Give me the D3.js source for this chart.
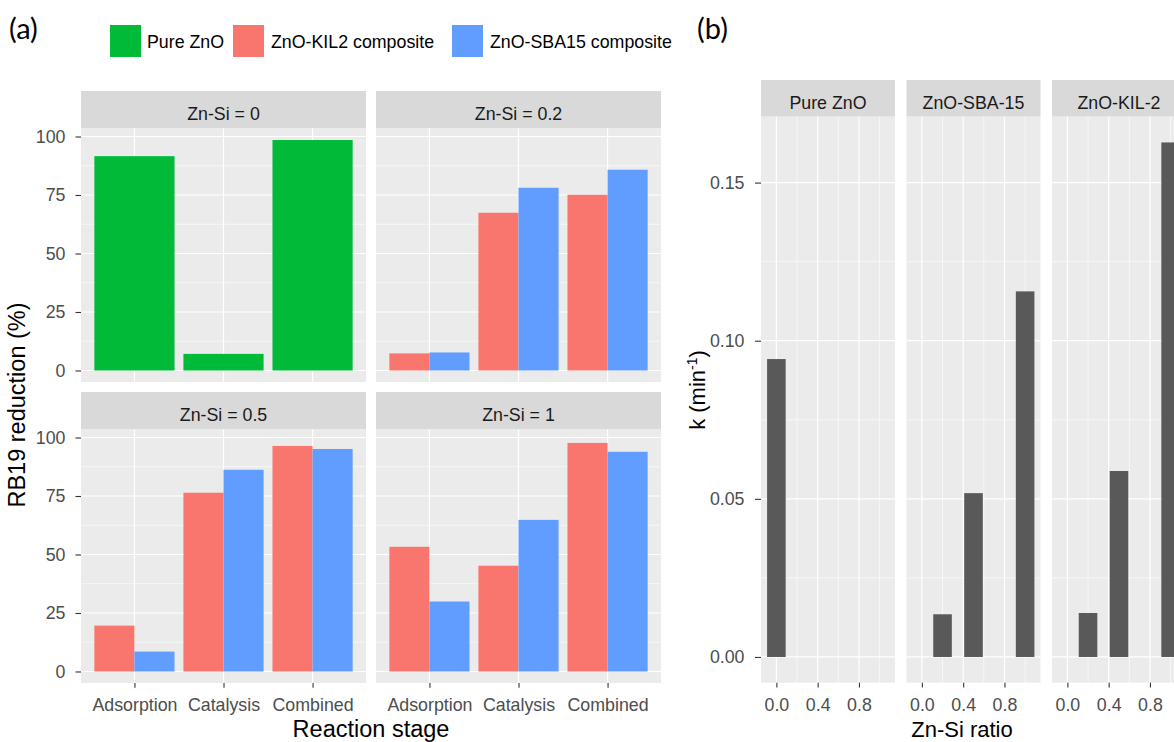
<!DOCTYPE html>
<html>
<head>
<meta charset="utf-8">
<script src="https://cdn.jsdelivr.net/npm/d3@7"></script>
<style>
  body { margin: 0; background: #fff; }
  text { font-family: "Liberation Sans", Arial, sans-serif; }
</style>
</head>
<body>
<script>
// ==================== Data ============================
// Panel (a): RB19 reduction (%) by reaction stage
const stages = ['Adsorption', 'Catalysis', 'Combined'];
const ratioLabels = ['Zn-Si = 0', 'Zn-Si = 0.2', 'Zn-Si = 0.5', 'Zn-Si = 1'];
const materials = ['Pure ZnO', 'ZnO-KIL2 composite', 'ZnO-SBA15 composite'];
const materialColors = ['#00BA38', '#F8766D', '#619CFF'];
const yTicksA = [0, 25, 50, 75, 100];

const pureZnO = [91.6, 7.1, 98.5];                   // Zn-Si = 0
const kil2Reduction = [[7.3, 67.4, 75.1],             // Zn-Si = 0.2
                       [19.6, 76.4, 96.4],            // Zn-Si = 0.5
                       [53.3, 45.2, 97.7]];           // Zn-Si = 1
const sba15Reduction = [[7.7, 78.1, 85.8],
                        [8.5, 86.2, 95.1],
                        [29.9, 64.8, 93.9]];

// Panel (b): rate constant k (min^-1) vs Zn-Si ratio
const kFacets = ['Pure ZnO', 'ZnO-SBA-15', 'ZnO-KIL-2'];
const kRatio = [[0], [0.2, 0.5, 1], [0.2, 0.5, 1]];
const kRate = [[0.0942], [0.0135, 0.0518, 0.1156], [0.0139, 0.0588, 0.1627]];
const kXTicks = [0, 0.4, 0.8];
const kYTicks = [0, 0.05, 0.10, 0.15];

// ==================== Set up ============================
const W = 1174, H = 742;
const panelBg = '#EBEBEB', stripBg = '#D9D9D9', axisText = '#4D4D4D', tickCol = '#333333';
const tickFont = 17.8;

const svg = d3.select('body').append('svg')
    .attr('width', W)
    .attr('height', H)
    .style('background', '#fff');

// facets for panel (a)
const facetsA = ratioLabels.map((label, i) => ({
  label,
  series: i === 0
    ? [{mat: 0, values: pureZnO}]
    : [{mat: 1, values: kil2Reduction[i - 1]}, {mat: 2, values: sba15Reduction[i - 1]}]
}));

const A = {lefts: [81, 376], rowTops: [91, 392], panelW: 285, stripH: 37.5, panelH: 253.5};
const maxA = d3.max([pureZnO, ...kil2Reduction, ...sba15Reduction].flat());
const yA = d3.scaleLinear().domain([-0.05 * maxA, 1.05 * maxA]).range([A.panelH, 0]);
const xA = d3.scalePoint().domain(stages).range([0, A.panelW]).padding(0.6);
const stepA = xA.step();

const styleAxis = (g) => {
  g.select('.domain').remove();
  g.selectAll('line').attr('stroke', tickCol).attr('stroke-width', 1.1);
  g.selectAll('text').attr('fill', axisText).style('font-size', tickFont + 'px')
    .style('font-family', '"Liberation Sans", Arial, sans-serif');
};

const drawStrip = (g, w, h, label) => {
  g.append('rect').attr('width', w).attr('height', h).attr('fill', stripBg);
  g.append('text')
      .attr('x', w / 2).attr('y', h / 2 + 10.4)
      .attr('text-anchor', 'middle')
      .attr('fill', '#1A1A1A')
      .style('font-size', tickFont + 'px')
      .text(label);
};

// ==================== Panel (a) ============================
facetsA.forEach((f, i) => {
  const col = i % 2, row = Math.floor(i / 2);
  const g = svg.append('g').attr('transform', `translate(${A.lefts[col]}, ${A.rowTops[row]})`);
  drawStrip(g, A.panelW, A.stripH, f.label);

  const p = g.append('g').attr('transform', `translate(0, ${A.stripH})`);
  p.append('rect').attr('width', A.panelW).attr('height', A.panelH).attr('fill', panelBg);

  // minor + major gridlines
  p.selectAll('.minor').data(d3.range(12.5, 100, 25)).enter()
    .append('line')
      .attr('x1', 0).attr('x2', A.panelW)
      .attr('y1', d => yA(d)).attr('y2', d => yA(d))
      .attr('stroke', '#fff').attr('stroke-width', 0.6);
  p.selectAll('.major').data(yTicksA).enter()
    .append('line')
      .attr('x1', 0).attr('x2', A.panelW)
      .attr('y1', d => yA(d)).attr('y2', d => yA(d))
      .attr('stroke', '#fff').attr('stroke-width', 1.2);
  p.selectAll('.vgrid').data(stages).enter()
    .append('line')
      .attr('x1', d => xA(d)).attr('x2', d => xA(d))
      .attr('y1', 0).attr('y2', A.panelH)
      .attr('stroke', '#fff').attr('stroke-width', 1.2);

  // dodged bars
  const n = f.series.length;
  f.series.forEach((s, si) => {
    p.selectAll(null).data(s.values).enter()
      .append('rect')
        .attr('x', (d, j) => xA(stages[j]) - 0.45 * stepA + si * 0.9 * stepA / n)
        .attr('width', 0.9 * stepA / n)
        .attr('y', d => yA(d))
        .attr('height', d => yA(0) - yA(d))
        .attr('fill', materialColors[s.mat]);
  });

  if (col === 0) {
    p.append('g')
        .call(d3.axisLeft(yA).tickValues(yTicksA).tickSize(5.5).tickPadding(10))
        .call(styleAxis);
  }
  if (row === 1) {
    p.append('g')
        .attr('transform', `translate(0, ${A.panelH})`)
        .call(d3.axisBottom(xA).tickSize(4.8).tickPadding(10.4))
        .call(styleAxis);
  }
});

// axis titles (a)
svg.append('text')
    .attr('transform', 'translate(25, 405) rotate(-90)')
    .attr('text-anchor', 'middle')
    .style('font-size', '23.5px')
    .text('RB19 reduction (%)');
svg.append('text')
    .attr('x', 371).attr('y', 736.5)
    .attr('text-anchor', 'middle')
    .style('font-size', '23.5px')
    .text('Reaction stage');

// legend (a)
const legendKeys = [110, 233, 452];
const legendLabelX = [147, 271, 490];
materials.forEach((m, i) => {
  svg.append('rect')
      .attr('x', legendKeys[i]).attr('y', 25)
      .attr('width', 31).attr('height', 32)
      .attr('fill', materialColors[i]);
  svg.append('text')
      .attr('x', legendLabelX[i]).attr('y', 48)
      .style('font-size', tickFont + 'px')
      .attr('fill', '#000')
      .text(m);
});

// panel tags
svg.append('text').attr('x', 9).attr('y', 39)
    .style('font-family', 'Lato, "Open Sans", sans-serif').style('font-size', '29px').text('(a)');
svg.append('text').attr('x', 697).attr('y', 39)
    .style('font-family', 'Lato, "Open Sans", sans-serif').style('font-size', '29px').text('(b)');

// ==================== Panel (b) ============================
const B = {lefts: [761, 906.5, 1052], top: 80, panelW: 134, stripH: 36.7, panelH: 566};
const barWK = 0.18;
const maxK = d3.max(kRate.flat());
const yB = d3.scaleLinear().domain([-0.05 * maxK, 1.05 * maxK]).range([B.panelH, 0]);
const lo = d3.min(kRatio.flat()) - barWK / 2, hi = d3.max(kRatio.flat()) + barWK / 2;
const xB = d3.scaleLinear().domain([lo - 0.05 * (hi - lo), hi + 0.05 * (hi - lo)]).range([0, B.panelW]);

kFacets.forEach((label, i) => {
  const g = svg.append('g').attr('transform', `translate(${B.lefts[i]}, ${B.top})`);
  drawStrip(g, B.panelW, B.stripH, label);

  const p = g.append('g').attr('transform', `translate(0, ${B.stripH})`);
  p.append('rect').attr('width', B.panelW).attr('height', B.panelH).attr('fill', panelBg);

  p.selectAll('.yminor').data(d3.range(0.025, 0.17, 0.05)).enter()
    .append('line')
      .attr('x1', 0).attr('x2', B.panelW)
      .attr('y1', d => yB(d)).attr('y2', d => yB(d))
      .attr('stroke', '#fff').attr('stroke-width', 0.6);
  p.selectAll('.xminor').data(d3.range(0.2, 1.1, 0.4)).enter()
    .append('line')
      .attr('x1', d => xB(d)).attr('x2', d => xB(d))
      .attr('y1', 0).attr('y2', B.panelH)
      .attr('stroke', '#fff').attr('stroke-width', 0.6);
  p.selectAll('.ymajor').data(kYTicks).enter()
    .append('line')
      .attr('x1', 0).attr('x2', B.panelW)
      .attr('y1', d => yB(d)).attr('y2', d => yB(d))
      .attr('stroke', '#fff').attr('stroke-width', 1.2);
  p.selectAll('.xmajor').data(kXTicks).enter()
    .append('line')
      .attr('x1', d => xB(d)).attr('x2', d => xB(d))
      .attr('y1', 0).attr('y2', B.panelH)
      .attr('stroke', '#fff').attr('stroke-width', 1.2);

  p.selectAll(null).data(kRate[i]).enter()
    .append('rect')
      .attr('x', (d, j) => xB(kRatio[i][j] - barWK / 2))
      .attr('width', xB(barWK) - xB(0))
      .attr('y', d => yB(d))
      .attr('height', d => yB(0) - yB(d))
      .attr('fill', '#595959');

  if (i === 0) {
    p.append('g')
        .call(d3.axisLeft(yB).tickValues(kYTicks).tickFormat(d3.format('.2f')).tickSize(6).tickPadding(10.5))
        .call(styleAxis);
  }
  p.append('g')
      .attr('transform', `translate(0, ${B.panelH})`)
      .call(d3.axisBottom(xB).tickValues(kXTicks).tickFormat(d3.format('.1f')).tickSize(4.8).tickPadding(10.4))
      .call(styleAxis);
});

// axis titles (b)
const kTitle = svg.append('text')
    .attr('transform', 'translate(705, 390) rotate(-90)')
    .attr('text-anchor', 'middle')
    .style('font-size', '22px');
kTitle.append('tspan').text('k (min');
kTitle.append('tspan').attr('dy', -8).style('font-size', '14px').text('-1');
kTitle.append('tspan').attr('dy', 8).text(')');

svg.append('text')
    .attr('x', 962).attr('y', 737)
    .attr('text-anchor', 'middle')
    .style('font-size', '22px')
    .text('Zn-Si ratio');
</script>
</body>
</html>
